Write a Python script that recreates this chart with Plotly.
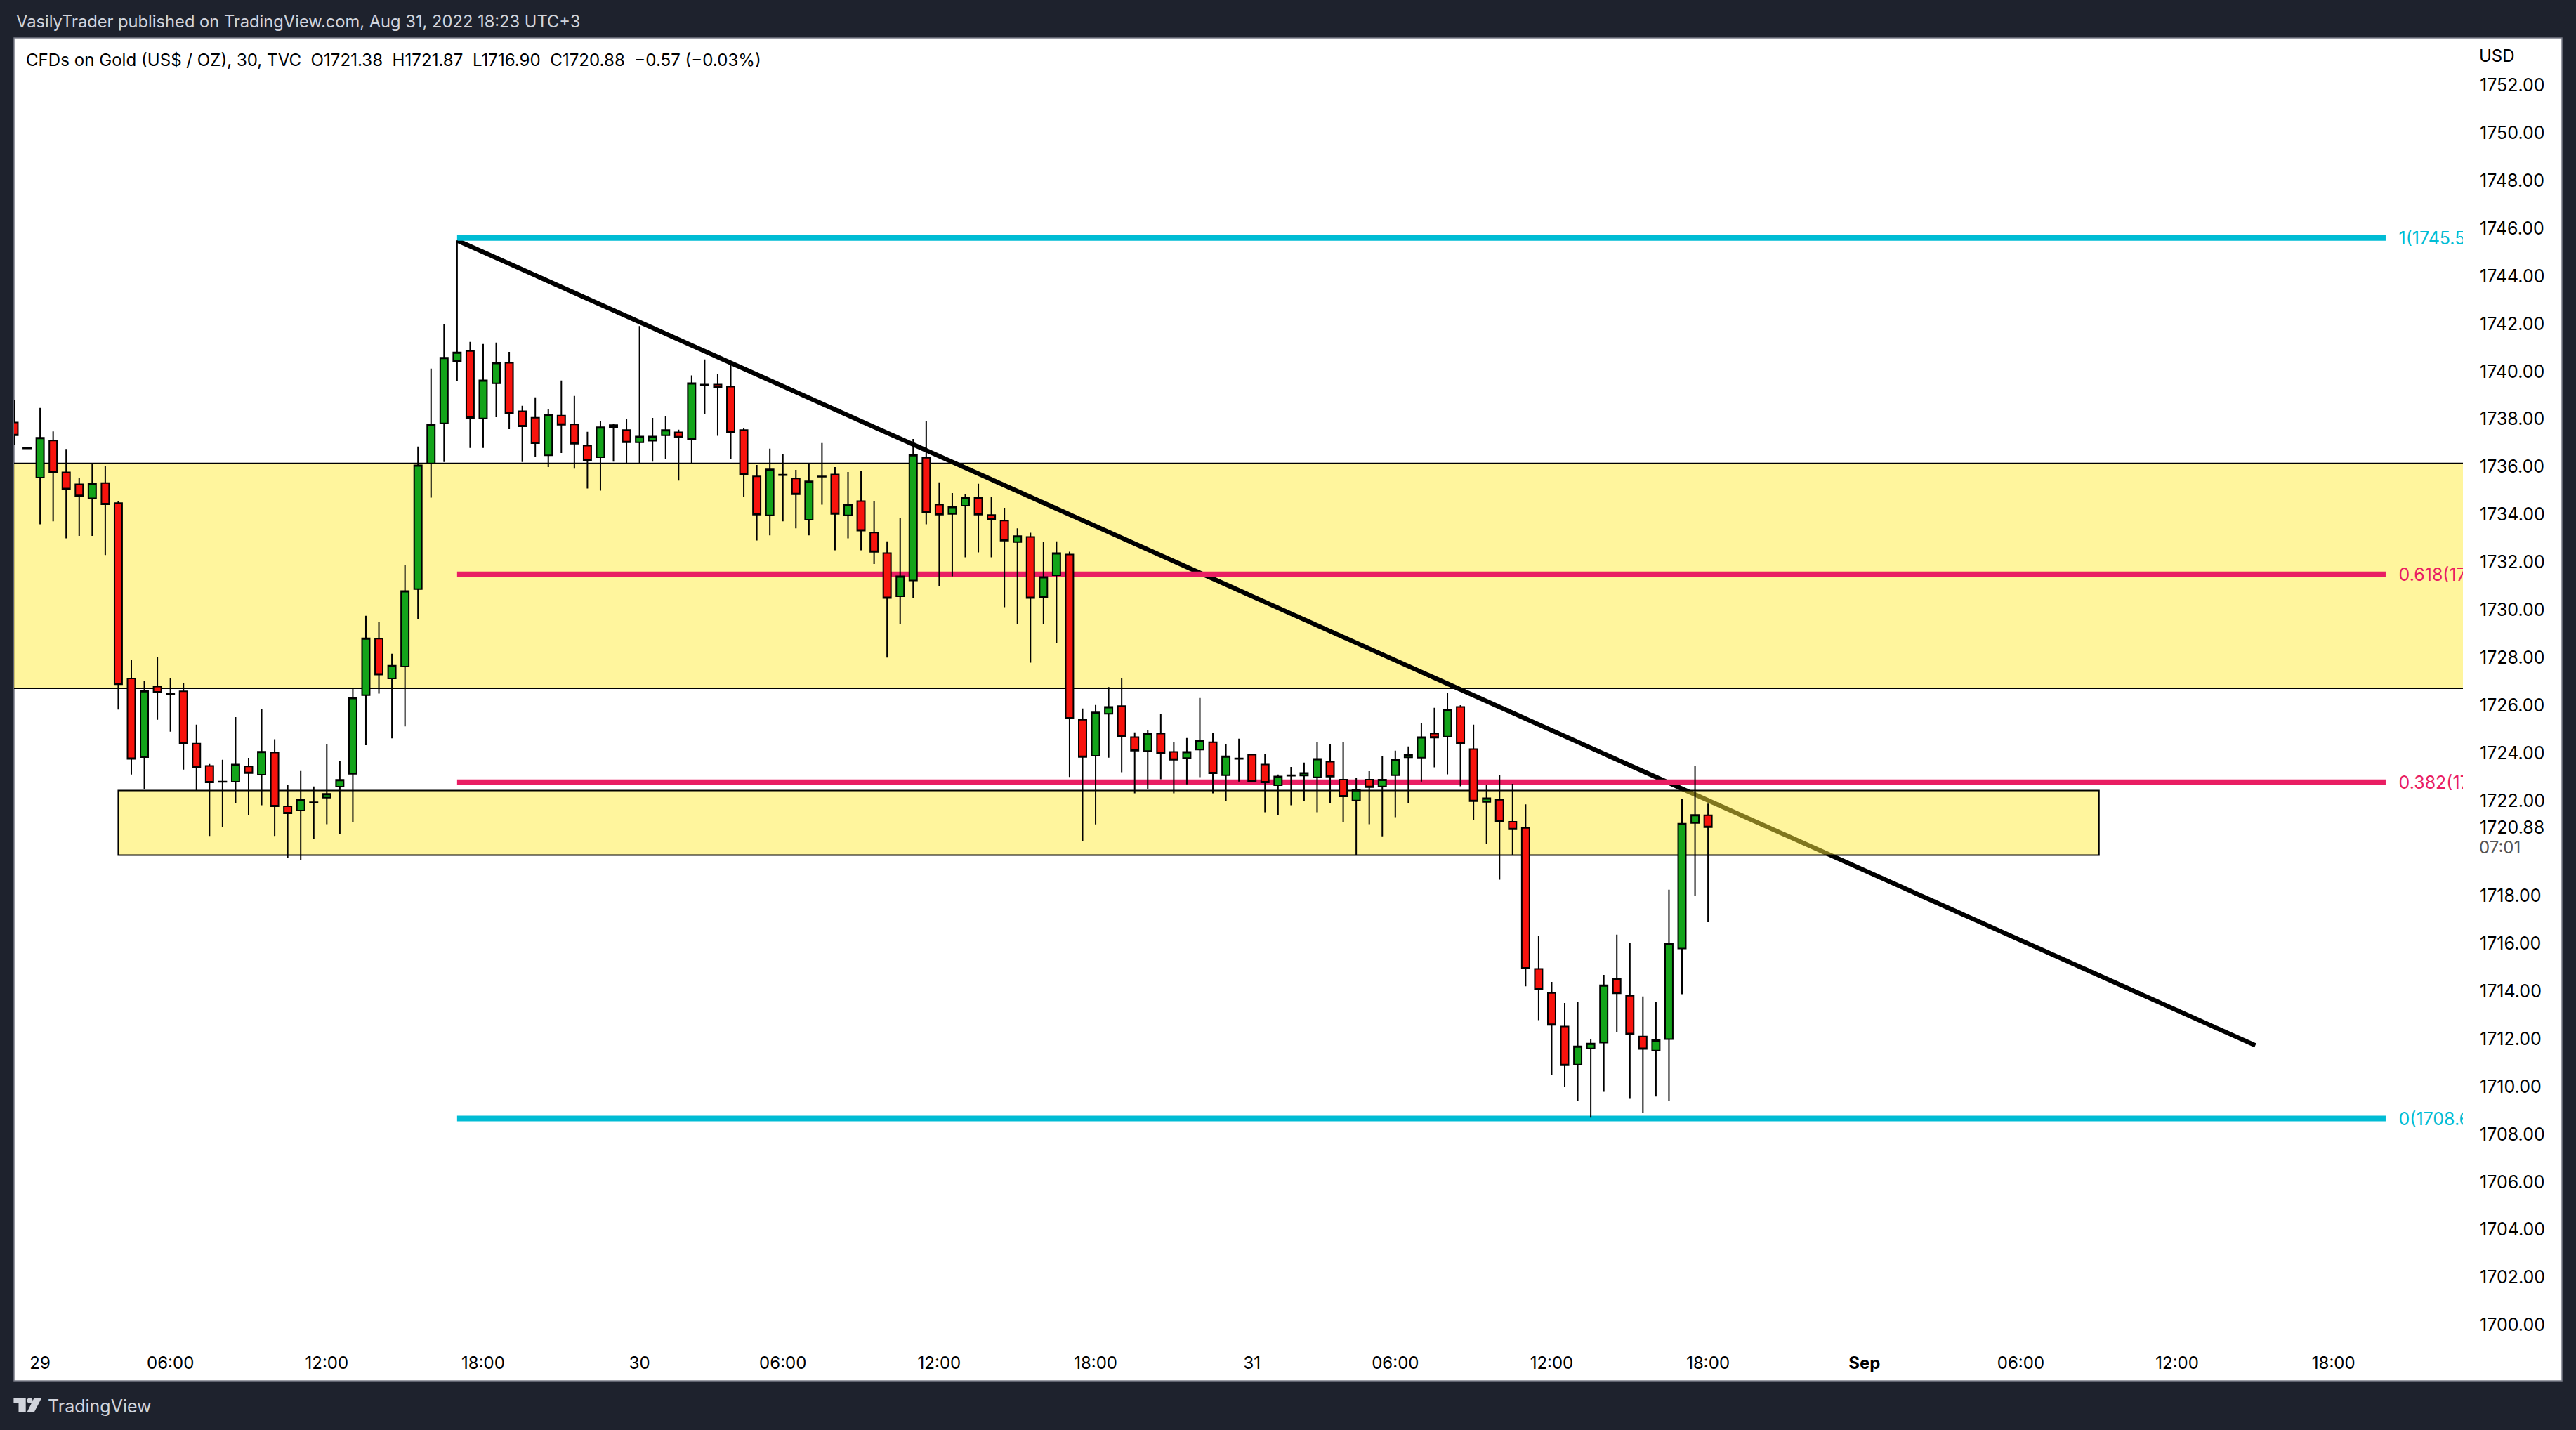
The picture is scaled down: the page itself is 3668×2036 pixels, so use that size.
import plotly.graph_objects as go

# bars are indexed by position on the time scale, 30 min each
bar_index = list(range(-2, 129))

opens = [
    1737.86, 1736.80, 1735.55, 1737.10, 1735.77, 1735.27, 1734.68, 1735.32, 1734.48, 1727.12,
    1723.82, 1726.78, 1726.49, 1726.58, 1724.39, 1723.45, 1722.80, 1722.79, 1723.43, 1723.08,
    1724.01, 1721.76, 1721.58, 1721.93, 1722.12, 1722.58, 1723.12, 1726.42, 1728.79, 1727.12,
    1727.62, 1730.87, 1736.14, 1737.82, 1740.44, 1740.86, 1738.03, 1739.50, 1740.36, 1738.33,
    1738.06, 1736.48, 1738.15, 1737.78, 1736.89, 1736.40, 1737.75, 1737.54, 1737.03, 1737.09,
    1737.32, 1737.45, 1737.17, 1739.45, 1739.45, 1739.36, 1737.54, 1735.60, 1733.96, 1735.67,
    1735.51, 1733.78, 1735.60, 1735.68, 1733.96, 1734.56, 1733.24, 1732.38, 1730.57, 1731.23,
    1736.38, 1734.41, 1734.02, 1734.37, 1734.69, 1733.98, 1733.74, 1732.84, 1733.06, 1730.54,
    1731.45, 1732.32, 1725.39, 1723.88, 1725.64, 1725.96, 1724.66, 1724.08, 1724.81, 1724.04,
    1723.78, 1724.14, 1724.45, 1723.06, 1723.77, 1723.92, 1723.51, 1722.64, 1723.06, 1723.05,
    1722.97, 1723.63, 1722.88, 1722.00, 1722.88, 1722.59, 1723.06, 1723.81, 1723.80, 1724.81,
    1724.68, 1725.93, 1724.16, 1721.94, 1722.03, 1721.11, 1720.85, 1714.94, 1713.93, 1712.52,
    1710.92, 1711.60, 1711.84, 1714.51, 1713.81, 1712.10, 1711.51, 1711.99, 1715.79, 1721.06,
    1721.38,
]

highs = [
    1738.81, 1736.82, 1738.47, 1737.48, 1736.75, 1735.55, 1736.14, 1736.03, 1734.55, 1727.89,
    1727.01, 1728.01, 1727.13, 1726.92, 1725.18, 1723.53, 1723.71, 1725.50, 1723.79, 1725.85,
    1724.57, 1722.67, 1723.24, 1722.59, 1724.38, 1723.65, 1726.71, 1729.75, 1729.48, 1728.16,
    1731.89, 1736.85, 1740.12, 1741.97, 1745.50, 1741.24, 1741.15, 1741.21, 1740.82, 1738.56,
    1738.91, 1738.41, 1739.62, 1738.97, 1737.47, 1737.90, 1737.80, 1738.02, 1741.90, 1738.05,
    1738.14, 1737.56, 1739.83, 1740.50, 1739.89, 1740.29, 1737.62, 1736.08, 1736.76, 1736.52,
    1735.87, 1736.14, 1737.00, 1735.99, 1735.78, 1735.81, 1734.55, 1732.87, 1733.84, 1737.17,
    1737.90, 1735.35, 1734.90, 1734.84, 1735.29, 1734.73, 1734.28, 1733.42, 1733.23, 1732.84,
    1732.87, 1732.44, 1725.86, 1726.01, 1726.76, 1727.12, 1724.86, 1724.94, 1725.65, 1724.47,
    1724.62, 1726.30, 1724.83, 1724.38, 1724.59, 1723.92, 1723.94, 1723.09, 1723.41, 1723.59,
    1724.47, 1724.35, 1724.44, 1722.94, 1723.23, 1723.88, 1724.09, 1724.27, 1725.24, 1725.89,
    1726.51, 1726.00, 1725.18, 1722.65, 1723.06, 1722.70, 1721.84, 1716.34, 1714.39, 1713.51,
    1713.55, 1711.99, 1714.69, 1716.37, 1716.02, 1713.78, 1713.57, 1718.26, 1722.05, 1723.47,
    1721.87,
]

lows = [
    1736.91, 1736.74, 1733.59, 1733.71, 1733.00, 1733.10, 1733.10, 1732.30, 1725.82, 1723.09,
    1722.49, 1725.39, 1724.89, 1723.30, 1722.42, 1720.51, 1720.90, 1721.90, 1721.40, 1721.80,
    1720.51, 1719.59, 1719.50, 1720.40, 1721.01, 1720.59, 1721.09, 1724.32, 1726.49, 1724.61,
    1725.11, 1729.62, 1734.71, 1736.20, 1739.59, 1736.79, 1736.79, 1738.08, 1737.58, 1736.20,
    1736.41, 1735.99, 1736.58, 1735.92, 1735.09, 1735.00, 1736.22, 1736.11, 1736.11, 1736.22,
    1736.31, 1735.42, 1736.11, 1738.22, 1737.30, 1736.31, 1734.72, 1732.91, 1733.12, 1733.71,
    1733.42, 1733.12, 1734.41, 1732.50, 1733.00, 1732.50, 1731.92, 1728.00, 1729.41, 1730.49,
    1733.59, 1731.00, 1731.41, 1732.20, 1732.41, 1732.20, 1730.11, 1729.41, 1727.78, 1729.41,
    1728.61, 1722.99, 1720.30, 1721.00, 1723.80, 1723.19, 1722.30, 1722.48, 1722.89, 1722.30,
    1722.68, 1722.98, 1722.30, 1721.98, 1722.80, 1722.79, 1721.51, 1721.39, 1721.80, 1721.98,
    1721.51, 1721.89, 1721.09, 1719.71, 1721.01, 1720.50, 1721.30, 1721.89, 1722.80, 1723.39,
    1723.10, 1722.60, 1721.18, 1720.18, 1718.68, 1719.71, 1714.21, 1712.79, 1710.49, 1709.99,
    1709.41, 1708.70, 1709.78, 1712.28, 1709.49, 1708.90, 1709.58, 1709.41, 1713.88, 1718.00,
    1716.90,
]

closes = [
    1737.32, 1736.77, 1737.22, 1735.75, 1735.06, 1734.77, 1735.30, 1734.43, 1726.88, 1723.75,
    1726.60, 1726.53, 1726.46, 1724.41, 1723.38, 1722.76, 1722.78, 1723.51, 1723.15, 1724.05,
    1721.76, 1721.46, 1722.03, 1721.91, 1722.28, 1722.87, 1726.31, 1728.81, 1727.28, 1727.66,
    1730.79, 1736.06, 1737.78, 1740.58, 1740.80, 1738.05, 1739.63, 1740.36, 1738.26, 1737.70,
    1736.99, 1738.18, 1737.76, 1736.97, 1736.26, 1737.66, 1737.65, 1737.03, 1737.27, 1737.27,
    1737.54, 1737.23, 1739.51, 1739.43, 1739.35, 1737.44, 1735.69, 1733.99, 1735.89, 1735.65,
    1734.85, 1735.39, 1735.58, 1734.02, 1734.41, 1733.32, 1732.43, 1730.49, 1731.41, 1736.50,
    1734.08, 1733.99, 1734.32, 1734.72, 1733.99, 1733.81, 1732.90, 1733.09, 1730.49, 1731.38,
    1732.38, 1725.44, 1723.83, 1725.70, 1725.93, 1724.68, 1724.09, 1724.81, 1723.97, 1723.71,
    1724.04, 1724.51, 1723.14, 1723.86, 1723.75, 1722.79, 1722.76, 1723.01, 1723.04, 1723.16,
    1723.75, 1723.00, 1722.17, 1722.44, 1722.56, 1722.88, 1723.72, 1723.92, 1724.66, 1724.64,
    1725.81, 1724.38, 1721.97, 1722.10, 1721.14, 1720.79, 1714.95, 1714.07, 1712.59, 1710.89,
    1711.69, 1711.81, 1714.25, 1713.91, 1712.20, 1711.58, 1711.95, 1715.99, 1721.03, 1721.40,
    1720.88,
]

time_ticks = [0, 10, 22, 34, 46, 57, 69, 81, 93, 104, 116, 128, 140, 152, 164, 176]
time_labels = ["29", "06:00", "12:00", "18:00", "30", "06:00", "12:00", "18:00", "31",
               "06:00", "12:00", "18:00", "<b>Sep</b>", "06:00", "12:00", "18:00"]

# no 1720.00 tick: the scale hides it behind the last price and countdown
price_ticks = [p for p in range(1700, 1754, 2) if p != 1720] + [1720.88]
price_labels = [f"{p:.2f}" for p in price_ticks]

# drawings
upper_zone = [1726.71, 1736.14]
lower_zone = [1719.71, 1722.42]
lower_zone_bars = [6, 158]
trend_bars = [32, 170]
trend_prices = [1745.50, 1711.73]
fib_bars = [32, 180]
fib_levels = [1745.60, 1731.49, 1722.77, 1708.66]
# only the part of each label that shows before the pane edge cuts it
fib_names = ["1(1745.5", "0.618(17", "0.382(17", "0(1708.6"]
fib_colors = ["#00bcd4", "#e91e63", "#e91e63", "#00bcd4"]
fib_label_bar = 181
fib_label_nudge = -0.1

WIDTH, HEIGHT = 3668, 2036
PANE_L, PANE_R, PANE_T, PANE_B = 20, 3507, 54, 1915
FRAME_R, FRAME_B = 3648, 1966
DARK = "#1e222d"
LIGHT = "#d1d4dc"
FONT = "Inter"


def px_x(x):
    return (x - PANE_L) / (PANE_R - PANE_L)


def px_y(y):
    return 1 - (y - PANE_T) / (PANE_B - PANE_T)


def logo_path(points):
    # logo outline is given in image pixels
    coords = [f"{px_x(x):.5f},{px_y(y):.5f}" for x, y in points]
    return "M " + " L ".join(coords) + " Z"


fig = go.Figure()

fig.add_trace(go.Candlestick(
    x=bar_index, open=opens, high=highs, low=lows, close=closes,
    increasing=dict(line=dict(color="#000000", width=2), fillcolor="#13a41a"),
    decreasing=dict(line=dict(color="#000000", width=2), fillcolor="#f8130d"),
    whiskerwidth=0, showlegend=False,
))

# text trace and not annotations, so the pane edge clips the labels
fig.add_trace(go.Scatter(
    x=[fib_label_bar] * len(fib_levels), y=[lv + fib_label_nudge for lv in fib_levels],
    text=fib_names, mode="text", textposition="middle right",
    textfont=dict(family=FONT, size=25, color=fib_colors),
    cliponaxis=True, showlegend=False,
))

shapes = [
    # white chart card behind everything
    dict(type="rect", xref="paper", yref="paper", layer="below",
         x0=px_x(PANE_L), x1=px_x(FRAME_R), y0=px_y(FRAME_B), y1=px_y(PANE_T),
         fillcolor="#ffffff", line=dict(color="#787b86", width=1.5)),
    dict(type="rect", xref="x", yref="y", layer="below",
         x0=bar_index[0] - 5, x1=210, y0=upper_zone[0], y1=upper_zone[1],
         fillcolor="rgba(255,235,59,0.5)", line=dict(color="#000000", width=2)),
    dict(type="line", xref="x", yref="y", layer="below",
         x0=trend_bars[0], x1=trend_bars[1], y0=trend_prices[0], y1=trend_prices[1],
         line=dict(color="#000000", width=6.5)),
    # drawn after the trend line, the half transparent fill turns it olive
    dict(type="rect", xref="x", yref="y", layer="below",
         x0=lower_zone_bars[0], x1=lower_zone_bars[1], y0=lower_zone[0], y1=lower_zone[1],
         fillcolor="rgba(255,235,59,0.5)", line=dict(color="#000000", width=2)),
]
for level, color in zip(fib_levels, fib_colors):
    shapes.append(dict(type="line", xref="x", yref="y", layer="below",
                       x0=fib_bars[0], x1=fib_bars[1], y0=level, y1=level,
                       line=dict(color=color, width=8)))

# TradingView logo
shapes.append(dict(type="path", xref="paper", yref="paper", fillcolor=LIGHT, line=dict(width=0),
                   path=logo_path([(19.4, 1990.5), (36.7, 1990.5), (36.7, 2010), (26.5, 2010),
                                   (26.5, 1997.5), (19.4, 1997.5)])))
shapes.append(dict(type="path", xref="paper", yref="paper", fillcolor=LIGHT, line=dict(width=0),
                   path=logo_path([(48.5, 1990.5), (59.2, 1990.5), (49, 2010), (38.8, 2010)])))
shapes.append(dict(type="circle", xref="paper", yref="paper", fillcolor=LIGHT, line=dict(width=0),
                   x0=px_x(38.5), x1=px_x(46.5), y0=px_y(1997.5), y1=px_y(1990.5)))


def note(text, x, y, color, size=24):
    return dict(text=text, xref="paper", yref="paper", x=px_x(x), y=px_y(y), xanchor="left",
                yanchor="middle", showarrow=False, font=dict(family=FONT, size=size, color=color))


annotations = [
    note("VasilyTrader published on TradingView.com, Aug 31, 2022 18:23 UTC+3", 21, 31, LIGHT, size=23.7),
    note("CFDs on Gold (US$ / OZ), 30, TVC  O1721.38  H1721.87  L1716.90  C1720.88  "
         "\u22120.57 (\u22120.03%)", 35, 85, "#000000", size=24.1),
    note("USD", 3528, 80, "#000000"),
    note("07:01", 3528, 1206, "#555555"),
    note("TradingView", 66, 2002, LIGHT, size=25),
]

fig.update_layout(
    width=WIDTH, height=HEIGHT, autosize=False,
    margin=dict(l=PANE_L, r=WIDTH - PANE_R, t=PANE_T, b=HEIGHT - PANE_B, pad=0),
    paper_bgcolor=DARK, plot_bgcolor="rgba(0,0,0,0)",
    font=dict(family=FONT, size=24, color="#000000"),
    showlegend=False, shapes=shapes, annotations=annotations,
    boxmode="overlay", boxgap=0.41, boxgroupgap=0,
    xaxis=dict(
        range=[-2.0, 185.93], rangeslider=dict(visible=False), showgrid=False, zeroline=False,
        showline=False, tickmode="array", tickvals=time_ticks, ticktext=time_labels,
        ticks="outside", ticklen=4, tickcolor="rgba(0,0,0,0)",
        tickfont=dict(family=FONT, size=24, color="#000000"),
    ),
    yaxis=dict(
        range=[1699.16, 1753.99], side="right", showgrid=False, zeroline=False, showline=False,
        tickmode="array", tickvals=price_ticks, ticktext=price_labels,
        ticks="outside", ticklen=18, tickcolor="rgba(0,0,0,0)",
        tickfont=dict(family=FONT, size=25, color="#000000"),
    ),
)

# the page body has a default margin that would push the figure off by 8px
fig.write_html("out.html", config=dict(displayModeBar=False),
               post_script="document.body.style.margin = '0';")
